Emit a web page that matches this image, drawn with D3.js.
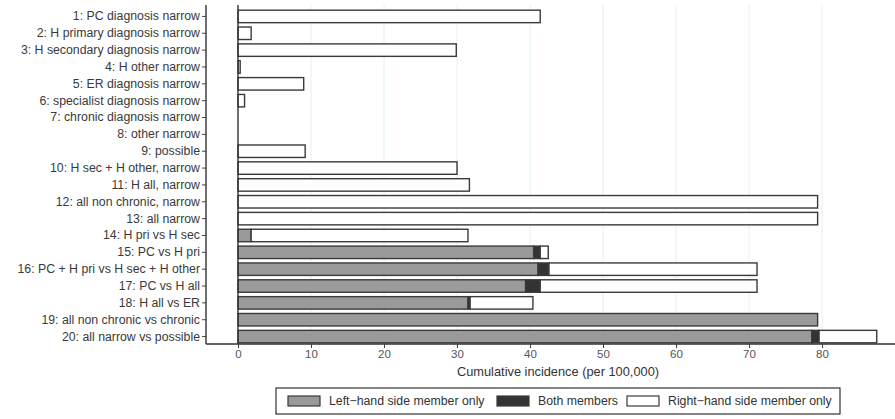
<!DOCTYPE html>
<html>
<head>
<meta charset="utf-8">
<script src="https://cdn.jsdelivr.net/npm/d3@7"></script>
<style>
  body { margin: 0; background: #fff; }
  text { font-family: Arial, "Liberation Sans", sans-serif; }
</style>
</head>
<body>
<div id="chart"></div>
<script>
let labels = [
  '1: PC diagnosis narrow',
  '2: H primary diagnosis narrow',
  '3: H secondary diagnosis narrow',
  '4: H other narrow',
  '5: ER diagnosis narrow',
  '6: specialist diagnosis narrow',
  '7: chronic diagnosis narrow',
  '8: other narrow',
  '9: possible',
  '10: H sec + H other, narrow',
  '11: H all, narrow',
  '12: all non chronic, narrow',
  '13: all narrow',
  '14: H pri vs H sec',
  '15: PC vs H pri',
  '16: PC + H pri vs H sec + H other',
  '17: PC vs H all',
  '18: H all vs ER',
  '19: all non chronic vs chronic',
  '20: all narrow vs possible'
]
let leftOnly = [0, 0, 0, 0, 0, 0, 0, 0, 0, 0, 0, 0, 0, 1.8, 40.5, 41.1, 39.4, 31.5, 79.4, 78.6]
let bothMembers = [0, 0, 0, 0, 0, 0, 0, 0, 0, 0, 0, 0, 0, 0, 0.9, 1.5, 2.0, 0.3, 0, 1.0]
let rightOnly = [41.4, 1.8, 29.9, 0.3, 9.0, 0.9, 0, 0, 9.2, 30.0, 31.7, 79.4, 79.4, 29.7, 1.1, 28.5, 29.7, 8.6, 0, 7.9]
let xTicks = [0, 10, 20, 30, 40, 50, 60, 70, 80]
let legendNames = ['Left\u2212hand side member only', 'Both members', 'Right\u2212hand side member only']

let width = 895
let height = 419

let svg = d3
  .select('#chart')
  .append('svg')
  .attr('width', width)
  .attr('height', height)

let rows = labels.map((d, i) => ({
  label: d,
  left: leftOnly[i],
  both: bothMembers[i],
  right: rightOnly[i]
}))

let keys = ['left', 'both', 'right']
let colorScale = d3.scaleOrdinal().domain(keys).range(['#9a9a9a', '#333333', '#ffffff'])

let xScale = d3.scaleLinear().domain([0, 80]).range([238, 822])
let yScale = d3
  .scaleBand()
  .domain(labels)
  .range([8, 345])
  .paddingInner(0.26)
  .paddingOuter(0.13)

let axisY = 344
let axisX = 206

// faint gridlines
svg
  .selectAll('.grid')
  .data(xTicks.filter(d => d > 0))
  .enter()
  .append('line')
  .attr('class', 'grid')
  .attr('x1', d => xScale(d))
  .attr('x2', d => xScale(d))
  .attr('y1', 5)
  .attr('y2', axisY)
  .attr('stroke', '#e0f5e0')
  .attr('stroke-width', 1)

let stacked = d3.stack().keys(keys)(rows)

svg
  .selectAll('.series')
  .data(stacked)
  .enter()
  .append('g')
  .attr('class', 'series')
  .attr('fill', d => colorScale(d.key))
  .selectAll('rect')
  .data(d => d.filter(s => s[1] - s[0] > 0))
  .enter()
  .append('rect')
  .attr('x', d => xScale(d[0]))
  .attr('y', d => yScale(d.data.label))
  .attr('width', d => xScale(d[1]) - xScale(d[0]))
  .attr('height', yScale.bandwidth())
  .attr('stroke', '#3a3a3a')
  .attr('stroke-width', 1.4)

// zero line
svg
  .append('line')
  .attr('x1', xScale(0))
  .attr('x2', xScale(0))
  .attr('y1', 5)
  .attr('y2', axisY)
  .attr('stroke', '#333')
  .attr('stroke-width', 1.4)

// y axis
let yAxis = svg
  .append('g')
  .attr('transform', `translate(${axisX},0)`)
  .call(d3.axisLeft(yScale).tickSize(4).tickPadding(2))

yAxis.select('.domain').remove()
yAxis.selectAll('.tick line').attr('stroke', '#444')
yAxis
  .selectAll('.tick text')
  .attr('fill', '#3a3a3a')
  .style('font-size', '12.3px')

svg
  .append('line')
  .attr('x1', axisX)
  .attr('x2', axisX)
  .attr('y1', 5)
  .attr('y2', axisY)
  .attr('stroke', '#333')
  .attr('stroke-width', 1.4)

// x axis
let xAxis = svg
  .append('g')
  .attr('transform', `translate(0,${axisY})`)
  .call(d3.axisBottom(xScale).tickValues(xTicks).tickSize(4).tickPadding(2))

xAxis.select('.domain').remove()
xAxis.selectAll('.tick line').attr('stroke', '#444')
xAxis
  .selectAll('.tick text')
  .attr('fill', '#555')
  .style('font-size', '11.5px')

svg
  .append('line')
  .attr('x1', axisX)
  .attr('x2', width)
  .attr('y1', axisY)
  .attr('y2', axisY)
  .attr('stroke', '#333')
  .attr('stroke-width', 1.4)

svg
  .append('text')
  .text('Cumulative incidence (per 100,000)')
  .attr('x', 558)
  .attr('y', 376)
  .attr('text-anchor', 'middle')
  .attr('fill', '#333')
  .style('font-size', '12.8px')

// legend
let legend = svg.append('g')

legend
  .append('rect')
  .attr('x', 276)
  .attr('y', 388)
  .attr('width', 564)
  .attr('height', 26)
  .attr('fill', '#fff')
  .attr('stroke', '#333')
  .attr('stroke-width', 1.2)

let legendX = [288, 497, 627]

legend
  .selectAll('.legend-entry')
  .data(keys)
  .enter()
  .append('g')
  .attr('class', 'legend-entry')
  .attr('transform', (d, i) => `translate(${legendX[i]},401)`)
  .each(function(d, i) {
    let g = d3.select(this)

    g.append('rect')
      .attr('x', 0)
      .attr('y', -5)
      .attr('width', 32)
      .attr('height', 10)
      .attr('fill', colorScale(d))
      .attr('stroke', '#3a3a3a')
      .attr('stroke-width', 1.2)

    g.append('text')
      .text(legendNames[i])
      .attr('x', 41)
      .attr('y', 0)
      .attr('dy', '0.35em')
      .attr('fill', '#333')
      .style('font-size', '12.3px')
  })
</script>
</body>
</html>
